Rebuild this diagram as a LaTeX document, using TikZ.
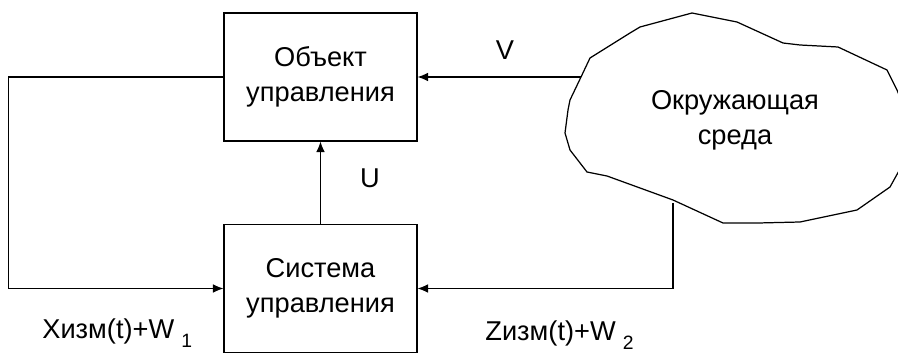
\documentclass[tikz,border=0pt]{standalone}
\usepackage{fontspec}
\setmainfont{Liberation Sans}
\usetikzlibrary{arrows.meta}

\begin{document}
\begin{tikzpicture}[x=0.02cm,y=-0.02cm,
 >={Latex[length=6pt,width=5pt]},
 every node/.style={font=\fontsize{15.5}{20}\selectfont},
 block/.style={draw,line width=0.7pt,minimum width=3.86cm,minimum height=2.56cm,align=center,inner sep=0pt},
 link/.style={line width=0.7pt}]
\useasboundingbox (0,0) rectangle (898,354);
\node[block] (obj) at (320.5,77) {Объект\\управления};
\node[block] (sys) at (320.5,288.5) {Система\\управления};
\draw[link] (692,13) -- (737,22) -- (783,43) -- (800,45) -- (838,47) -- (887,70)
 -- (897,90) -- (905,110) -- (905,160) -- (890,187) -- (857,210) -- (800,222)
 -- (758,223) -- (723,223) -- (673,200) -- (607,176) -- (587,172) -- (570,150)
 -- (565,133) -- (568,110) -- (570,100) -- (581,77) -- (590,58) -- (630,33)
 -- (640,27) -- cycle;
\node[align=center] (env) at (735,120) {Окружающая\\среда};
\coordinate (v0) at (581,77);
\coordinate (z0) at (673,203);
\draw[link,->] (obj.west) -- ++(-215,0) |- (sys.west);
\draw[link,->] (sys.north) -- (obj.south);
\draw[link,->] (v0) -- (obj.east);
\draw[link,->] (z0) |- (sys.east);
\node (vlab) at (505,50) {V};
\node (ulab) at (370,178) {U};
\node[anchor=base west,inner sep=0pt] (xlab) at (42,338) {Xизм(t)+W\hspace{4pt}\raisebox{-5.5pt}{\fontsize{11}{13}\selectfont 1}};
\node[anchor=base west,inner sep=0pt] (zlab) at (485,340) {Zизм(t)+W\hspace{4pt}\raisebox{-5.5pt}{\fontsize{11}{13}\selectfont 2}};
\end{tikzpicture}
\end{document}
